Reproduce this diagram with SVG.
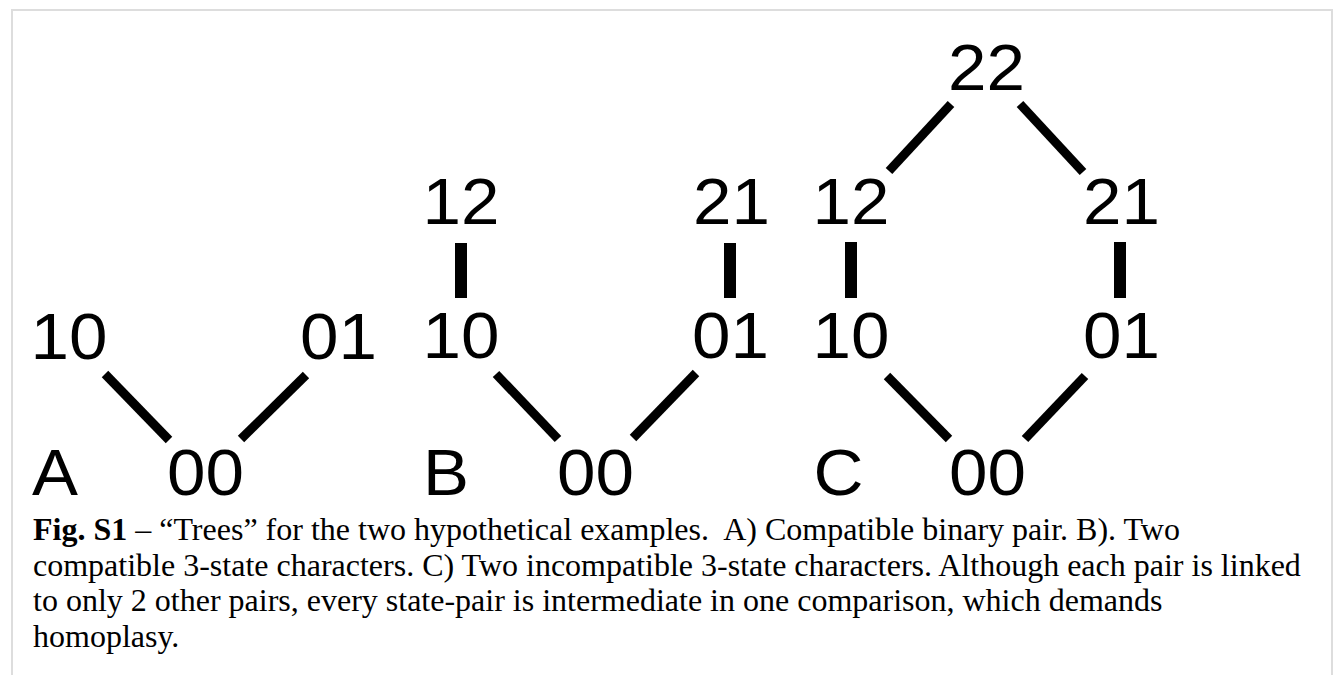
<svg xmlns="http://www.w3.org/2000/svg" width="1334" height="675" viewBox="0 0 1334 675">
<style>
.n{font-family:"Liberation Sans",Arial,sans-serif;font-size:65px;fill:#000}
.cap{font-family:"Liberation Serif","Times New Roman",serif;font-size:32px;fill:#000;white-space:pre}
.e{stroke:#000;stroke-width:9;stroke-linecap:butt}
.v{stroke:#000;stroke-width:12;stroke-linecap:butt}
</style>
<rect x="0" y="0" width="1334" height="675" fill="#fff"/>
<rect x="12" y="10" width="1320" height="700" fill="#fff" stroke="#dddddd" stroke-width="2"/>
<g id="connectors">
<line class="e" x1="105" y1="374" x2="169" y2="440"/>
<line class="e" x1="306" y1="375" x2="241" y2="439"/>
<line class="v" x1="461" y1="243" x2="461" y2="298"/>
<line class="v" x1="730" y1="243" x2="730" y2="298"/>
<line class="e" x1="496" y1="374" x2="558" y2="439"/>
<line class="e" x1="696" y1="373" x2="633" y2="438"/>
<line class="e" x1="951" y1="104" x2="889" y2="171"/>
<line class="e" x1="1020" y1="104" x2="1083" y2="172"/>
<line class="v" x1="851" y1="242" x2="851" y2="298"/>
<line class="v" x1="1120" y1="242" x2="1120" y2="298"/>
<line class="e" x1="887" y1="376" x2="949" y2="439"/>
<line class="e" x1="1085" y1="376" x2="1025" y2="439"/>
</g>
<g id="panelA">
<g id="A-10"><text class="n" x="30.4" y="359" textLength="77" lengthAdjust="spacingAndGlyphs">10</text></g>
<g id="A-01"><text class="n" x="300" y="359" textLength="77" lengthAdjust="spacingAndGlyphs">01</text></g>
<g id="A-00"><text class="n" x="167" y="495" textLength="77" lengthAdjust="spacingAndGlyphs">00</text></g>
<g id="A-label"><text class="n" x="32" y="495" textLength="46" lengthAdjust="spacingAndGlyphs">A</text></g>
</g>
<g id="panelB">
<g id="B-12"><text class="n" x="422.4" y="224" textLength="77" lengthAdjust="spacingAndGlyphs">12</text></g>
<g id="B-21"><text class="n" x="693" y="224" textLength="77" lengthAdjust="spacingAndGlyphs">21</text></g>
<g id="B-10"><text class="n" x="422.4" y="358" textLength="77" lengthAdjust="spacingAndGlyphs">10</text></g>
<g id="B-01"><text class="n" x="692" y="358" textLength="77" lengthAdjust="spacingAndGlyphs">01</text></g>
<g id="B-00"><text class="n" x="557" y="495" textLength="77" lengthAdjust="spacingAndGlyphs">00</text></g>
<g id="B-label"><text class="n" x="423" y="495" textLength="46" lengthAdjust="spacingAndGlyphs">B</text></g>
</g>
<g id="panelC">
<g id="C-22"><text class="n" x="948" y="90" textLength="77" lengthAdjust="spacingAndGlyphs">22</text></g>
<g id="C-12"><text class="n" x="812.4" y="224" textLength="77" lengthAdjust="spacingAndGlyphs">12</text></g>
<g id="C-21"><text class="n" x="1083" y="224" textLength="77" lengthAdjust="spacingAndGlyphs">21</text></g>
<g id="C-10"><text class="n" x="812.4" y="358" textLength="77" lengthAdjust="spacingAndGlyphs">10</text></g>
<g id="C-01"><text class="n" x="1083" y="358" textLength="77" lengthAdjust="spacingAndGlyphs">01</text></g>
<g id="C-00"><text class="n" x="949" y="495" textLength="77" lengthAdjust="spacingAndGlyphs">00</text></g>
<g id="C-label"><text class="n" x="813.6" y="495" textLength="50" lengthAdjust="spacingAndGlyphs">C</text></g>
</g>
<g id="caption">
<text class="cap" x="33" y="540"><tspan font-weight="bold">Fig. S1</tspan> – “Trees” for the two hypothetical examples.  A) Compatible binary pair. B). Two</text>
<text class="cap" x="33" y="575.5">compatible 3-state characters. C) Two incompatible 3-state characters. Although each pair is linked</text>
<text class="cap" x="33" y="611">to only 2 other pairs, every state-pair is intermediate in one comparison, which demands</text>
<text class="cap" x="33" y="646.5">homoplasy.</text>
</g>
</svg>
